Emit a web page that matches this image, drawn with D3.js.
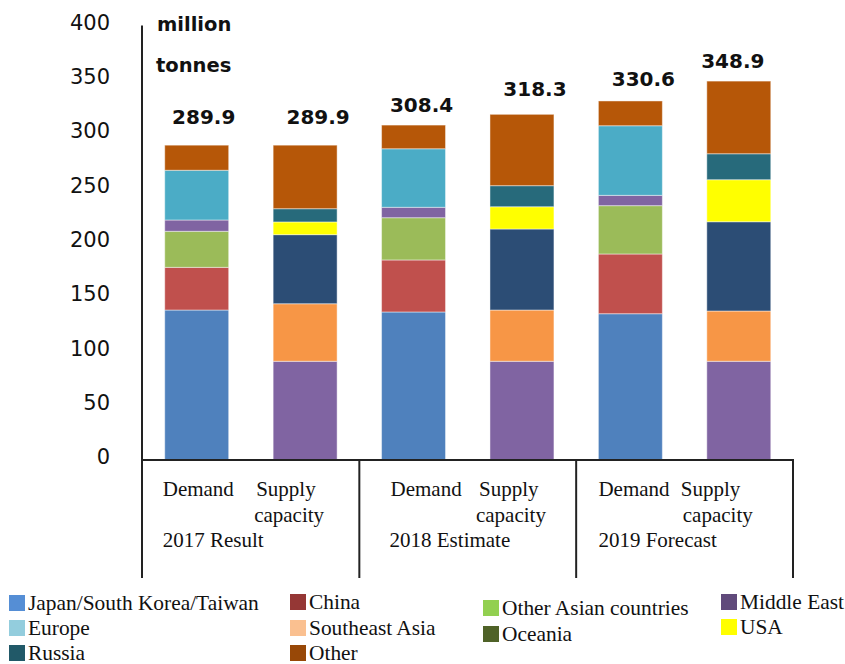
<!DOCTYPE html>
<html>
<head>
<meta charset="utf-8">
<script src="https://cdn.jsdelivr.net/npm/d3@7"></script>
<style>
  html, body { margin: 0; padding: 0; background: #fff; }
  svg { display: block; }
  .num { font-family: "DejaVu Sans", Verdana, sans-serif; fill: #111; }
  .serif { font-family: "Liberation Serif", "Times New Roman", serif; fill: #111; }
</style>
</head>
<body>
<svg id="chart" width="845" height="664"></svg>
<script>
// Bars: demand and supply capacity for each year (million tonnes)
const bars = ["2017 Demand", "2017 Supply", "2018 Demand", "2018 Supply", "2019 Demand", "2019 Supply"];
const groups = ["2017 Result", "2018 Estimate", "2019 Forecast"];
const barWords = [["Demand"], ["Supply", "capacity"]];

// Region contributions per bar (bottom to top stacking order)
const japanKoreaTaiwan = [138.1, 0, 136.3, 0, 134.7, 0];
const china            = [39.3, 0, 47.9, 0, 55.0, 0];
const otherAsia        = [33.2, 0, 38.9, 0, 44.5, 0];
const middleEast       = [10.4, 90.9, 9.6, 90.9, 9.5, 90.9];
const southeastAsia    = [0, 53.0, 0, 47.2, 0, 46.3];
const oceania          = [0, 63.6, 0, 74.6, 0, 82.2];
const usa              = [0, 11.7, 0, 20.5, 0, 38.7];
const russia           = [0, 12.2, 0, 19.4, 0, 23.9];
const europe           = [45.8, 0, 53.9, 0, 64.1, 0];
const other            = [23.1, 58.5, 21.8, 65.7, 22.8, 66.9];
const totals = [289.9, 289.9, 308.4, 318.3, 330.6, 348.9];

const yTicks = [0, 50, 100, 150, 200, 250, 300, 350, 400];

const legendLabels = ["Japan/South Korea/Taiwan", "Europe", "Russia",
                      "China", "Southeast Asia", "Other",
                      "Other Asian countries", "Oceania",
                      "Middle East", "USA"];

// ---- styling ----
const seriesKeys = ["japan", "china", "otherAsia", "middleEast", "southeastAsia",
                    "oceania", "usa", "russia", "europe", "other"];
const barColor = {
  japan: "#4F81BD", china: "#C0504D", otherAsia: "#9BBB59", middleEast: "#8064A2",
  southeastAsia: "#F79646", oceania: "#2C4D75", usa: "#FFFF00", russia: "#276A7B",
  europe: "#4BACC6", other: "#B65708"
};
const legendColor = ["#558ED5", "#93CDDD", "#215968",
                     "#953735", "#FAC090", "#984807",
                     "#92D050", "#4F6228",
                     "#604A7B", "#FFFF00"];
// legend columns / rows
const legendCols = [9, 290, 483, 721];
const legendRows = [[595, 620, 645], [594, 620, 645], [600, 626], [594, 619]];
// per-label nudges for the total labels [dx, gap above bar]
const totalNudge = [[7, 28], [13, 28], [8, 20], [13, 25], [13, 22], [-6, 20]];
// per-group nudges for the category words relative to bar left edge
const demandDx = [-2, 9, 0];
const supplyDx = [-17, -11, -26];
const capacityDx = [-19, -14, -24];
const groupDx = [-2, 8, 0];

const table = bars.map((b, i) => ({
  bar: b,
  japan: japanKoreaTaiwan[i], china: china[i], otherAsia: otherAsia[i],
  middleEast: middleEast[i], southeastAsia: southeastAsia[i], oceania: oceania[i],
  usa: usa[i], russia: russia[i], europe: europe[i], other: other[i]
}));

const svg = d3.select("#chart");

const x = d3.scaleBand().domain(bars).range([142.5, 793]).paddingInner(0.41).paddingOuter(0.205);
const y = d3.scaleLinear().domain([0, 400]).range([460, 25.6]);

const stack = d3.stack().keys(seriesKeys);
const layers = stack(table);

// stacked segments
const gBars = svg.append("g");
layers.forEach(layer => {
  gBars.selectAll(null)
    .data(layer.filter(d => d[1] - d[0] > 0))
    .enter().append("rect")
    .attr("x", d => x(d.data.bar))
    .attr("width", x.bandwidth())
    .attr("y", d => y(d[1]))
    .attr("height", d => y(d[0]) - y(d[1]))
    .attr("fill", barColor[layer.key])
    .attr("stroke", "rgba(255,255,255,0.45)")
    .attr("stroke-width", 1);
});

// y axis labels
const yAxis = d3.axisLeft(y).tickValues(yTicks).tickSize(0).tickPadding(0);
const gy = svg.append("g").attr("transform", "translate(110,0)").call(yAxis);
gy.select(".domain").remove();
gy.selectAll("text")
  .attr("class", "num")
  .attr("dy", "0.32em")
  .attr("y", -3)
  .style("font-size", "21px")
  .style("font-family", "'DejaVu Sans', Verdana, sans-serif")
  .attr("fill", "#222");

// axis line and category box
const lineColor = "#222";
svg.append("line").attr("x1", 142).attr("x2", 142).attr("y1", y(400)).attr("y2", 578)
  .attr("stroke", lineColor).attr("stroke-width", 2);
svg.append("line").attr("x1", 141).attr("x2", 794).attr("y1", y(0)).attr("y2", y(0))
  .attr("stroke", lineColor).attr("stroke-width", 2);
groups.forEach((g, gi) => {
  const sx = x(bars[gi * 2 + 1]) + x.bandwidth() + (x.step() - x.bandwidth()) / 2;
  svg.append("line").attr("x1", sx).attr("x2", sx).attr("y1", y(0)).attr("y2", 578)
    .attr("stroke", lineColor).attr("stroke-width", 2);
});

// unit label
svg.append("text").attr("class", "num").attr("x", 157).attr("y", 31)
  .style("font-size", "19.5px").style("font-weight", "bold").text("million");
svg.append("text").attr("class", "num").attr("x", 156).attr("y", 72)
  .style("font-size", "19.5px").style("font-weight", "bold").text("tonnes");

// totals above bars
svg.selectAll(".total")
  .data(totals)
  .enter().append("text")
  .attr("class", "num total")
  .attr("text-anchor", "middle")
  .attr("x", (d, i) => x(bars[i]) + x.bandwidth() / 2 + totalNudge[i][0])
  .attr("y", (d, i) => y(d) - totalNudge[i][1] + 7)
  .style("font-size", "20px")
  .style("font-weight", "bold")
  .text(d => d.toFixed(1));

// category words under bars
groups.forEach((g, gi) => {
  const dLeft = x(bars[gi * 2]);
  const sLeft = x(bars[gi * 2 + 1]);
  svg.append("text").attr("class", "serif").attr("x", dLeft + demandDx[gi]).attr("y", 496)
    .style("font-size", "21px").text(barWords[0][0]);
  svg.append("text").attr("class", "serif").attr("x", sLeft + supplyDx[gi]).attr("y", 496)
    .style("font-size", "21px").text(barWords[1][0]);
  svg.append("text").attr("class", "serif").attr("x", sLeft + capacityDx[gi]).attr("y", 522)
    .style("font-size", "21px").text(barWords[1][1]);
  svg.append("text").attr("class", "serif").attr("x", dLeft + groupDx[gi]).attr("y", 547)
    .style("font-size", "21px").text(g);
});

// legend
let li = 0;
legendRows.forEach((rows, ci) => {
  rows.forEach(ry => {
    const gx = legendCols[ci];
    svg.append("rect").attr("x", gx).attr("y", ry).attr("width", 16).attr("height", 16)
      .attr("fill", legendColor[li]);
    svg.append("text").attr("class", "serif").attr("x", gx + 19).attr("y", ry + 14.5)
      .style("font-size", "21.4px").text(legendLabels[li]);
    li++;
  });
});
</script>
</body>
</html>
